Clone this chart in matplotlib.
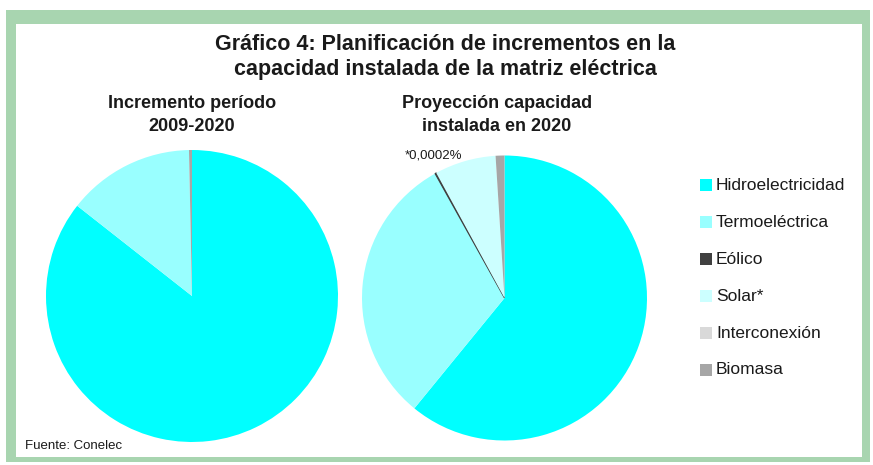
import matplotlib
matplotlib.use("Agg")
import matplotlib.pyplot as plt
from matplotlib.patches import Rectangle

categories = ["Hidroelectricidad", "Termoeléctrica", "Eólico", "Solar*", "Interconexión", "Biomasa"]
incremento_2009_2020 = [85.6, 14.07, 0.0, 0.0, 0.0, 0.33]
proyeccion_2020 = [60.9, 31.0, 0.15, 6.95, 0.0, 1.0]
colors = ["#00FFFF", "#99FFFF", "#404040", "#CCFFFF", "#D9D9D9", "#A6A6A6"]

title = "Gráfico 4: Planificación de incrementos en la\ncapacidad instalada de la matriz eléctrica"
sub1 = "Incremento período\n2009-2020"
sub2 = "Proyección capacidad\ninstalada en 2020"
note = "*0,0002%"
source = "Fuente: Conelec"

FAM = ["Liberation Sans Narrow", "Liberation Sans", "DejaVu Sans"]
plt.rcParams['font.family'] = FAM

W, H = 873, 465
fig = plt.figure(figsize=(W / 100, H / 100), dpi=100)
fig.patch.set_facecolor("white")

def fx(x): return x / W
def fy(y): return 1 - y / H

# frame
fig.patches.append(Rectangle((fx(6), fy(462)), fx(864), (452) / H, transform=fig.transFigure,
                             facecolor="#A8D5B0", edgecolor="none", zorder=-2))
fig.patches.append(Rectangle((fx(16), fy(457)), fx(846), (433) / H, transform=fig.transFigure,
                             facecolor="white", edgecolor="none", zorder=-1))

def pie_axes(cx, cy, r):
    ax = fig.add_axes([fx(cx - r), fy(cy + r), 2 * r / W, 2 * r / H])
    ax.set_zorder(5)
    ax.patch.set_visible(False)
    return ax

ax1 = pie_axes(192, 296, 146)
w1, _ = ax1.pie(incremento_2009_2020, colors=colors, startangle=90, counterclock=False,
                wedgeprops=dict(linewidth=0))
ax1.set_xlim(-1, 1); ax1.set_ylim(-1, 1); ax1.set_aspect("auto"); ax1.axis("off")

ax2 = pie_axes(504.5, 298, 142.5)
w2, _ = ax2.pie(proyeccion_2020, colors=colors, startangle=90, counterclock=False,
                wedgeprops=dict(linewidth=0))
ax2.set_xlim(-1, 1); ax2.set_ylim(-1, 1); ax2.set_aspect("auto"); ax2.axis("off")
# emphasize tiny wind wedge as a thin dark line
w2[2].set_edgecolor("#404040"); w2[2].set_linewidth(0.8)

fig.text(fx(445), fy(57), title, ha="center", va="center", fontsize=15.5, fontweight="bold",
         color="#1a1a1a", linespacing=1.2, zorder=6)
fig.text(fx(192), fy(115), sub1, ha="center", va="center", fontsize=13, fontweight="bold",
         color="#1a1a1a", linespacing=1.4, zorder=6)
fig.text(fx(497), fy(115), sub2, ha="center", va="center", fontsize=13, fontweight="bold",
         color="#1a1a1a", linespacing=1.4, zorder=6)
fig.text(fx(405), fy(156), note, ha="left", va="center", fontsize=9.5, color="#1a1a1a", zorder=6)
fig.text(fx(25), fy(446), source, ha="left", va="center", fontsize=9.5, color="#1a1a1a", zorder=6)

# legend
ys = [185, 222, 259, 296, 333, 370]
for cat, col, y in zip(categories, colors, ys):
    fig.patches.append(Rectangle((fx(700), fy(y + 6)), 12 / W, 12 / H, transform=fig.transFigure,
                                 facecolor=col, edgecolor="none", zorder=6))
    fig.text(fx(716), fy(y), cat, ha="left", va="center", fontsize=12.5, color="#1a1a1a", zorder=6)

fig.savefig("out.png", dpi=100, facecolor="white")
